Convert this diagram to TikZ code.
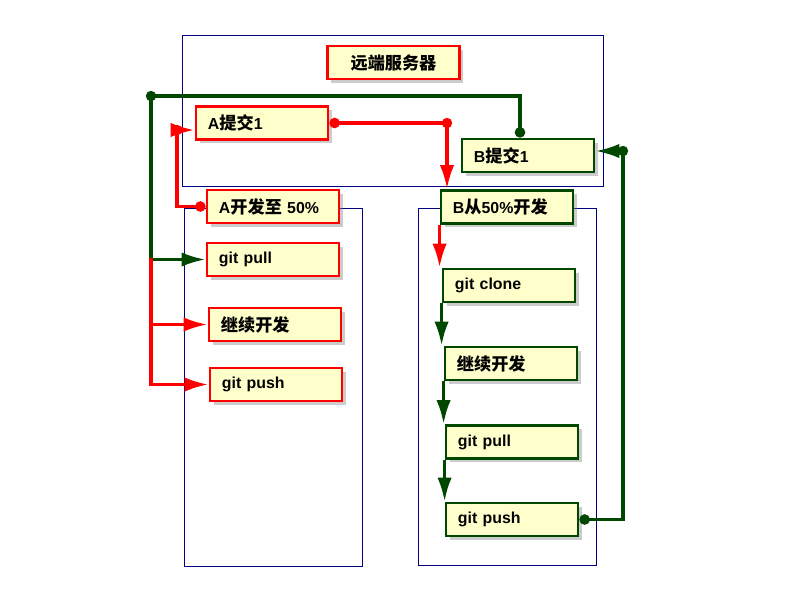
\documentclass[tikz,border=0pt]{standalone}
\usepackage{fontspec}
\setmainfont{Liberation Sans}
\newfontfamily\cjk[Scale=1.08]{Noto Sans CJK SC}
\usetikzlibrary{arrows.meta,shadows}
\definecolor{boxfill}{HTML}{FFFFCC}
\definecolor{darkgreen}{RGB}{0,72,0}
\definecolor{framenavy}{HTML}{000080}
\begin{document}
\begin{tikzpicture}[x=0.025cm, y=-0.025cm,
        every node/.style={font=\fontsize{11.3}{13}\selectfont\bfseries},
        tip/.tip={Latex[length=6mm,width=3.6mm]},
        dot/.tip={Circle[length=2.6mm]},
        abox/.style={draw=red, line width=2pt, fill=boxfill, inner xsep=3mm,
            text width=2.7cm, minimum height=8.25mm, align=left,
            drop shadow={shadow xshift=0.9mm, shadow yshift=-0.9mm, opacity=0.4}},
        bbox/.style={abox, draw=darkgreen},
        frame/.style={draw=framenavy, line width=0.6pt},
        rline/.style={draw=red, line width=2.4pt},
        gline/.style={draw=darkgreen, line width=2.4pt}]
        \useasboundingbox (0,0) rectangle (800,600);

        % frames
        \draw[frame] (182,35) rectangle (603,186);
        \draw[frame] (184,208) rectangle (362,566);
        \draw[frame] (418,208) rectangle (596,565);

        \node [abox, align=center] (server) at (393.5,62.5) {{\cjk 远端服务器}};
        \node [abox] (aCommit) at (262,123) {A{\cjk 提交}1};
        \node [bbox] (bCommit) at (528,155.5) {B{\cjk 提交}1};

        \node [abox] (aDev) at (273,206.5) {A{\cjk 开发至} 50\%};
        \node [abox] (aPull) at (273,259.5) {git pull};
        \node [abox] (aWork) at (275,324.5) {{\cjk 继续开发}};
        \node [abox] (aPush) at (276,384.5) {git push};

        \node [bbox] (bDev) at (507,207) {B{\cjk 从}50\%{\cjk 开发}};
        \node [bbox] (bClone) at (509,285.5) {git clone};
        \node [bbox] (bWork) at (511,363.5) {{\cjk 继续开发}};
        \node [bbox] (bPull) at (512,442) {git pull};
        \node [bbox] (bPush) at (512,519.5) {git push};

        \coordinate (gTop) at (151,96);
        \coordinate (rLeft) at (177,130);
        \coordinate (rRight) at (447,123);
        \coordinate (rSplit) at (151,258);
        \coordinate (gRight) at (623,151);

        % A side
        \draw[gline, dot-tip] ([xshift=-2mm]bCommit.north) |- (gTop) |- (aPull.west);
        \fill[darkgreen] (gTop) circle (1.3mm);
        \draw[rline, dot-tip] (aDev.west) -| (rLeft) -- (rLeft -| aCommit.west);
        \fill[red] (rLeft) circle (1.3mm);
        \draw[rline, -tip] (rSplit) |- (aWork.west);
        \draw[rline, -tip] (rSplit) |- (aPush.west);

        % B side
        \draw[rline, dot-tip] (aCommit.east) -- (rRight) -- (rRight |- bDev.north);
        \fill[red] (rRight) circle (1.3mm);
        \draw[rline, -tip] (bDev.south west) -- (bDev.south west |- bClone.north);
        \draw[gline, -tip] (bClone.south west) -- (bClone.south west |- bWork.north);
        \draw[gline, -tip] (bWork.south west) -- (bWork.south west |- bPull.north);
        \draw[gline, -tip] (bPull.south west) -- (bPull.south west |- bPush.north);
        \draw[gline, dot-tip] (bPush.east) -| (gRight) -- (gRight -| bCommit.east);
        \fill[darkgreen] (gRight) circle (1.3mm);
\end{tikzpicture}
\end{document}
